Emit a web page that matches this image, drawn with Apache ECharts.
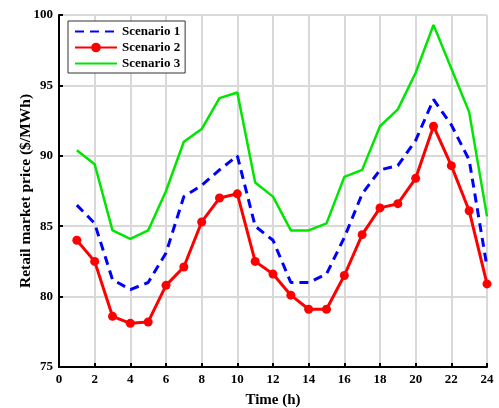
<!DOCTYPE html>
<html>
<head>
<meta charset="utf-8">
<script src="https://cdn.jsdelivr.net/npm/echarts@6/dist/echarts.min.js"></script>
<style>
  html, body { margin: 0; padding: 0; background: #fff; }
  #chart { width: 499px; height: 408px; }
</style>
</head>
<body>
<div id="chart"></div>
<script>
// 数据
const hours = [1, 2, 3, 4, 5, 6, 7, 8, 9, 10, 11, 12, 13, 14, 15, 16, 17, 18, 19, 20, 21, 22, 23, 24];
const scenario1 = [86.5, 85.2, 81.2, 80.5, 81.0, 83.1, 87.1, 87.9, 89.0, 90.0, 85.0, 84.0,
                   81.0, 81.0, 81.6, 84.2, 87.3, 89.0, 89.3, 91.1, 94.0, 92.2, 89.7, 82.1];
const scenario2 = [84.0, 82.5, 78.6, 78.1, 78.2, 80.8, 82.1, 85.3, 87.0, 87.3, 82.5, 81.6,
                   80.1, 79.1, 79.1, 81.5, 84.4, 86.3, 86.6, 88.4, 92.1, 89.3, 86.1, 80.9];
const scenario3 = [90.4, 89.4, 84.7, 84.1, 84.7, 87.5, 91.0, 91.9, 94.1, 94.5, 88.1, 87.1,
                   84.7, 84.7, 85.2, 88.5, 89.0, 92.1, 93.3, 95.9, 99.3, 96.2, 93.1, 85.7];

const pairs = vals => hours.map((h, i) => [h, vals[i]]);
const font = '"Liberation Serif", "DejaVu Serif", serif';

const chart = echarts.init(document.getElementById('chart'));
const option = {
    animation: false,
    textStyle: { fontFamily: font },
    grid: { left: 59, right: 12, top: 15, bottom: 41, containLabel: false, outerBoundsMode: 'none' },
    legend: {
        orient: 'vertical',
        left: 68,
        top: 21,
        padding: [4, 5, 3, 6],
        itemGap: 3,
        itemWidth: 42,
        itemHeight: 12,
        borderColor: '#333',
        borderWidth: 1,
        backgroundColor: '#fff',
        textStyle: { fontFamily: font, fontWeight: 'bold', fontSize: 13, color: '#000' },
        data: [
            { name: 'Scenario 1', itemStyle: { opacity: 0 } },
            { name: 'Scenario 2' },
            { name: 'Scenario 3', itemStyle: { opacity: 0 } },
        ],
    },
    xAxis: {
        type: 'value',
        min: 0,
        max: 24,
        interval: 2,
        name: 'Time (h)',
        nameLocation: 'middle',
        nameGap: 26,
        nameMoveOverlap: false,
        nameTextStyle: { fontFamily: font, fontWeight: 'bold', fontSize: 15, color: '#000' },
        axisLine: { lineStyle: { color: '#000', width: 2 } },
        axisTick: { inside: true, length: 4, lineStyle: { color: '#000', width: 2 } },
        axisLabel: { fontFamily: font, fontWeight: 'bold', fontSize: 13, color: '#000', margin: 6 },
        splitLine: { show: true, lineStyle: { color: '#d9d9d9', width: 2 } },
    },
    yAxis: {
        type: 'value',
        min: 75,
        max: 100,
        interval: 5,
        name: 'Retail market price ($/MWh)',
        nameLocation: 'middle',
        nameGap: 25,
        nameMoveOverlap: false,
        nameTextStyle: { fontFamily: font, fontWeight: 'bold', fontSize: 15.5, color: '#000' },
        axisLine: { show: true, lineStyle: { color: '#000', width: 2 } },
        axisTick: { show: true, inside: true, length: 4, lineStyle: { color: '#000', width: 2 } },
        axisLabel: { fontFamily: font, fontWeight: 'bold', fontSize: 13, color: '#000', margin: 6 },
        splitLine: { show: true, lineStyle: { color: '#d9d9d9', width: 2 } },
    },
    series: [
        {
            name: 'Scenario 1',
            type: 'line',
            data: pairs(scenario1),
            showSymbol: false,
            symbol: 'none',
            itemStyle: { color: '#0000ff' },
            lineStyle: { color: '#0000ff', width: 3, type: [9, 6] },
            z: 3,
        },
        {
            name: 'Scenario 2',
            type: 'line',
            data: pairs(scenario2),
            symbol: 'circle',
            symbolSize: 9,
            itemStyle: { color: '#ff0000' },
            lineStyle: { color: '#ff0000', width: 3 },
            z: 4,
        },
        {
            name: 'Scenario 3',
            type: 'line',
            data: pairs(scenario3),
            symbol: 'none',
            itemStyle: { color: '#00e600' },
            lineStyle: { color: '#00e600', width: 2.5 },
            z: 2,
        },
    ],
};
chart.setOption(option);
</script>
</body>
</html>
